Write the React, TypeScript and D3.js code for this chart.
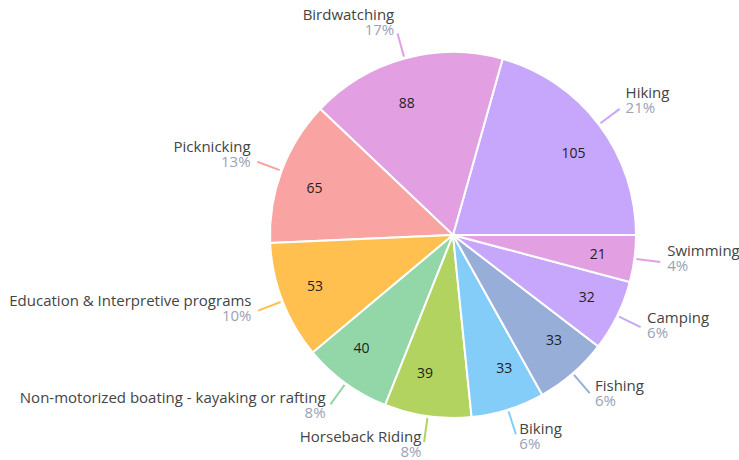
import React from "react";
import * as d3 from "d3";

const categories = [
  "Hiking",
  "Birdwatching",
  "Picknicking",
  "Education & Interpretive programs",
  "Non-motorized boating - kayaking or rafting",
  "Horseback Riding",
  "Biking",
  "Fishing",
  "Camping",
  "Swimming",
];
const values = [105, 88, 65, 53, 40, 39, 33, 33, 32, 21];
const colors = [
  "#c6a7fc",
  "#e2a0e3",
  "#f9a3a2",
  "#ffc050",
  "#93d7a9",
  "#b2d360",
  "#84cdf8",
  "#97aed9",
  "#c6a7fc",
  "#e2a0e3",
];

const W = 739;
const H = 460;
const CX = 453;
const CY = 235;
const R = 183;
const FONT = "'Open Sans', Lato, sans-serif";

export default function App() {
  const data = categories.map((c, i) => ({ name: c, value: values[i], color: colors[i] }));
  const total = d3.sum(values);
  const pie = d3
    .pie<any>()
    .value((d: any) => d.value)
    .sort(null)
    .startAngle(Math.PI / 2)
    .endAngle(Math.PI / 2 - 2 * Math.PI);
  const arcs = pie(data);
  const arc = d3.arc<any>().innerRadius(0).outerRadius(R);
  const pct = d3.format(".0%");

  return (
    <svg
      width={W}
      height={H}
      style={{ position: "absolute", left: 0, top: 0, background: "#fff" }}
      fontFamily={FONT}
    >
      <g transform={`translate(${CX},${CY})`}>
        {arcs.map((a, i) => (
          <path key={i} d={arc(a) as string} fill={a.data.color} stroke="#fff" strokeWidth={2} />
        ))}
        {arcs.map((a, i) => {
          const m = (a.startAngle + a.endAngle) / 2;
          const s = Math.sin(m);
          const c = Math.cos(m);
          const lx = 145 * s + 8 * Math.sign(s) * Math.abs(c);
          const ly = -138 * c + 1;
          return (
            <text
              key={"v" + i}
              x={lx}
              y={ly}
              dy="0.35em"
              textAnchor="middle"
              fontSize={14}
              fill="#222"
            >
              {a.data.value}
            </text>
          );
        })}
        {arcs.map((a, i) => {
          const m = (a.startAngle + a.endAngle) / 2;
          const s = Math.sin(m);
          const c = Math.cos(m);
          const r0 = R + 2;
          const r1 = R + 26;
          const x1 = r1 * s;
          const y1 = -r1 * c;
          const right = s >= 0;
          const tx = x1 + (right ? 1 : -1) * (2 + 5 * Math.abs(s));
          const ny = y1 - 7 - 7 * c;
          return (
            <g key={"l" + i}>
              <line
                x1={r0 * s}
                y1={-r0 * c}
                x2={x1}
                y2={y1}
                stroke={a.data.color}
                strokeWidth={2}
              />
              <text x={tx} y={ny} textAnchor={right ? "start" : "end"} fontSize={15} fill="#444">
                {a.data.name}
              </text>
              <text
                x={tx}
                y={ny + 15}
                textAnchor={right ? "start" : "end"}
                fontSize={15}
                fill="#9aa2b8"
              >
                {pct(a.data.value / total)}
              </text>
            </g>
          );
        })}
      </g>
    </svg>
  );
}
